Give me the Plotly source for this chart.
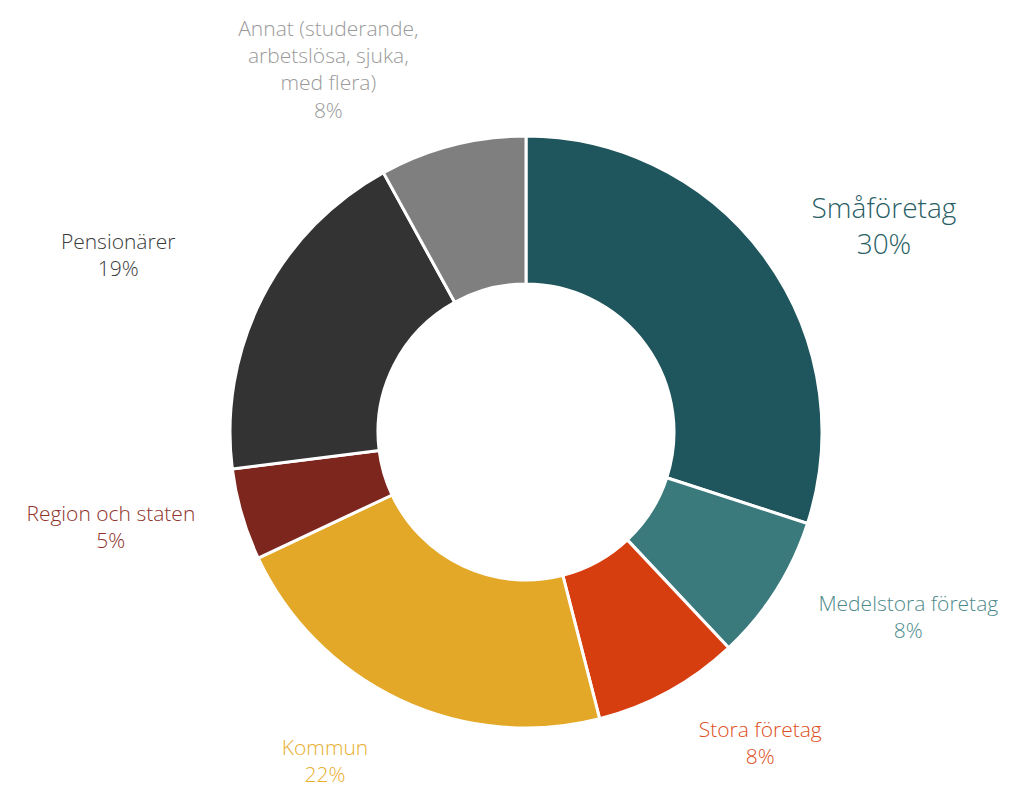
import plotly.graph_objects as go

labels = ["Småföretag", "Medelstora företag", "Stora företag", "Kommun",
          "Region och staten", "Pensionärer",
          "Annat (studerande,<br>arbetslösa, sjuka,<br>med flera)"]
values = [30, 8, 8, 22, 5, 19, 8]

slice_colors = ["#1F555C", "#3B7A7C", "#D63E10", "#E3A827", "#7C261E", "#333333", "#7F7F7F"]
label_colors = ["#2A5F66", "#4F8B8C", "#DD4F22", "#E8AE2E", "#8E3129", "#3A3A3A", "#9A9A9A"]
label_sizes = [28, 21, 21, 21, 21, 21, 21]
# radius (px) of the invisible ring that carries each slice's outside label
label_ring = [330, 330, 330, 338, 330, 378, 322]

W, H = 1011, 805
cx, cy = 518, 424          # pie centre in figure pixels
R_pie = 296
FONT = "Open Sans"

total = sum(values)
texts = [f"{l}<br>{round(v / total * 100)}%" for l, v in zip(labels, values)]


def dom(r):
    return dict(x=[(cx - r) / W, (cx + r) / W],
                y=[(H - cy - r) / H, (H - cy + r) / H])


fig = go.Figure()
# visible donut
fig.add_trace(go.Pie(
    labels=labels, values=values, sort=False, direction="clockwise", rotation=0,
    hole=0.5, domain=dom(R_pie),
    marker=dict(colors=slice_colors, line=dict(color="white", width=3)),
    textinfo="none", showlegend=False, automargin=False,
))
# transparent rings that carry the outside labels a bit further out
for r in sorted(set(label_ring)):
    fig.add_trace(go.Pie(
        labels=labels, values=values, sort=False, direction="clockwise", rotation=0,
        hole=0.95, domain=dom(r),
        marker=dict(colors=["rgba(0,0,0,0)"] * len(values), line=dict(width=0)),
        text=[t if lr == r else "" for t, lr in zip(texts, label_ring)],
        textinfo="text", textposition="outside",
        outsidetextfont=dict(color=label_colors, size=label_sizes, family=FONT, weight=300),
        showlegend=False, automargin=False, hoverinfo="skip",
    ))
fig.update_layout(
    width=W, height=H,
    margin=dict(l=0, r=0, t=0, b=0),
    paper_bgcolor="white", plot_bgcolor="white",
    font=dict(family=FONT),
)
fig.write_html("out.html")
